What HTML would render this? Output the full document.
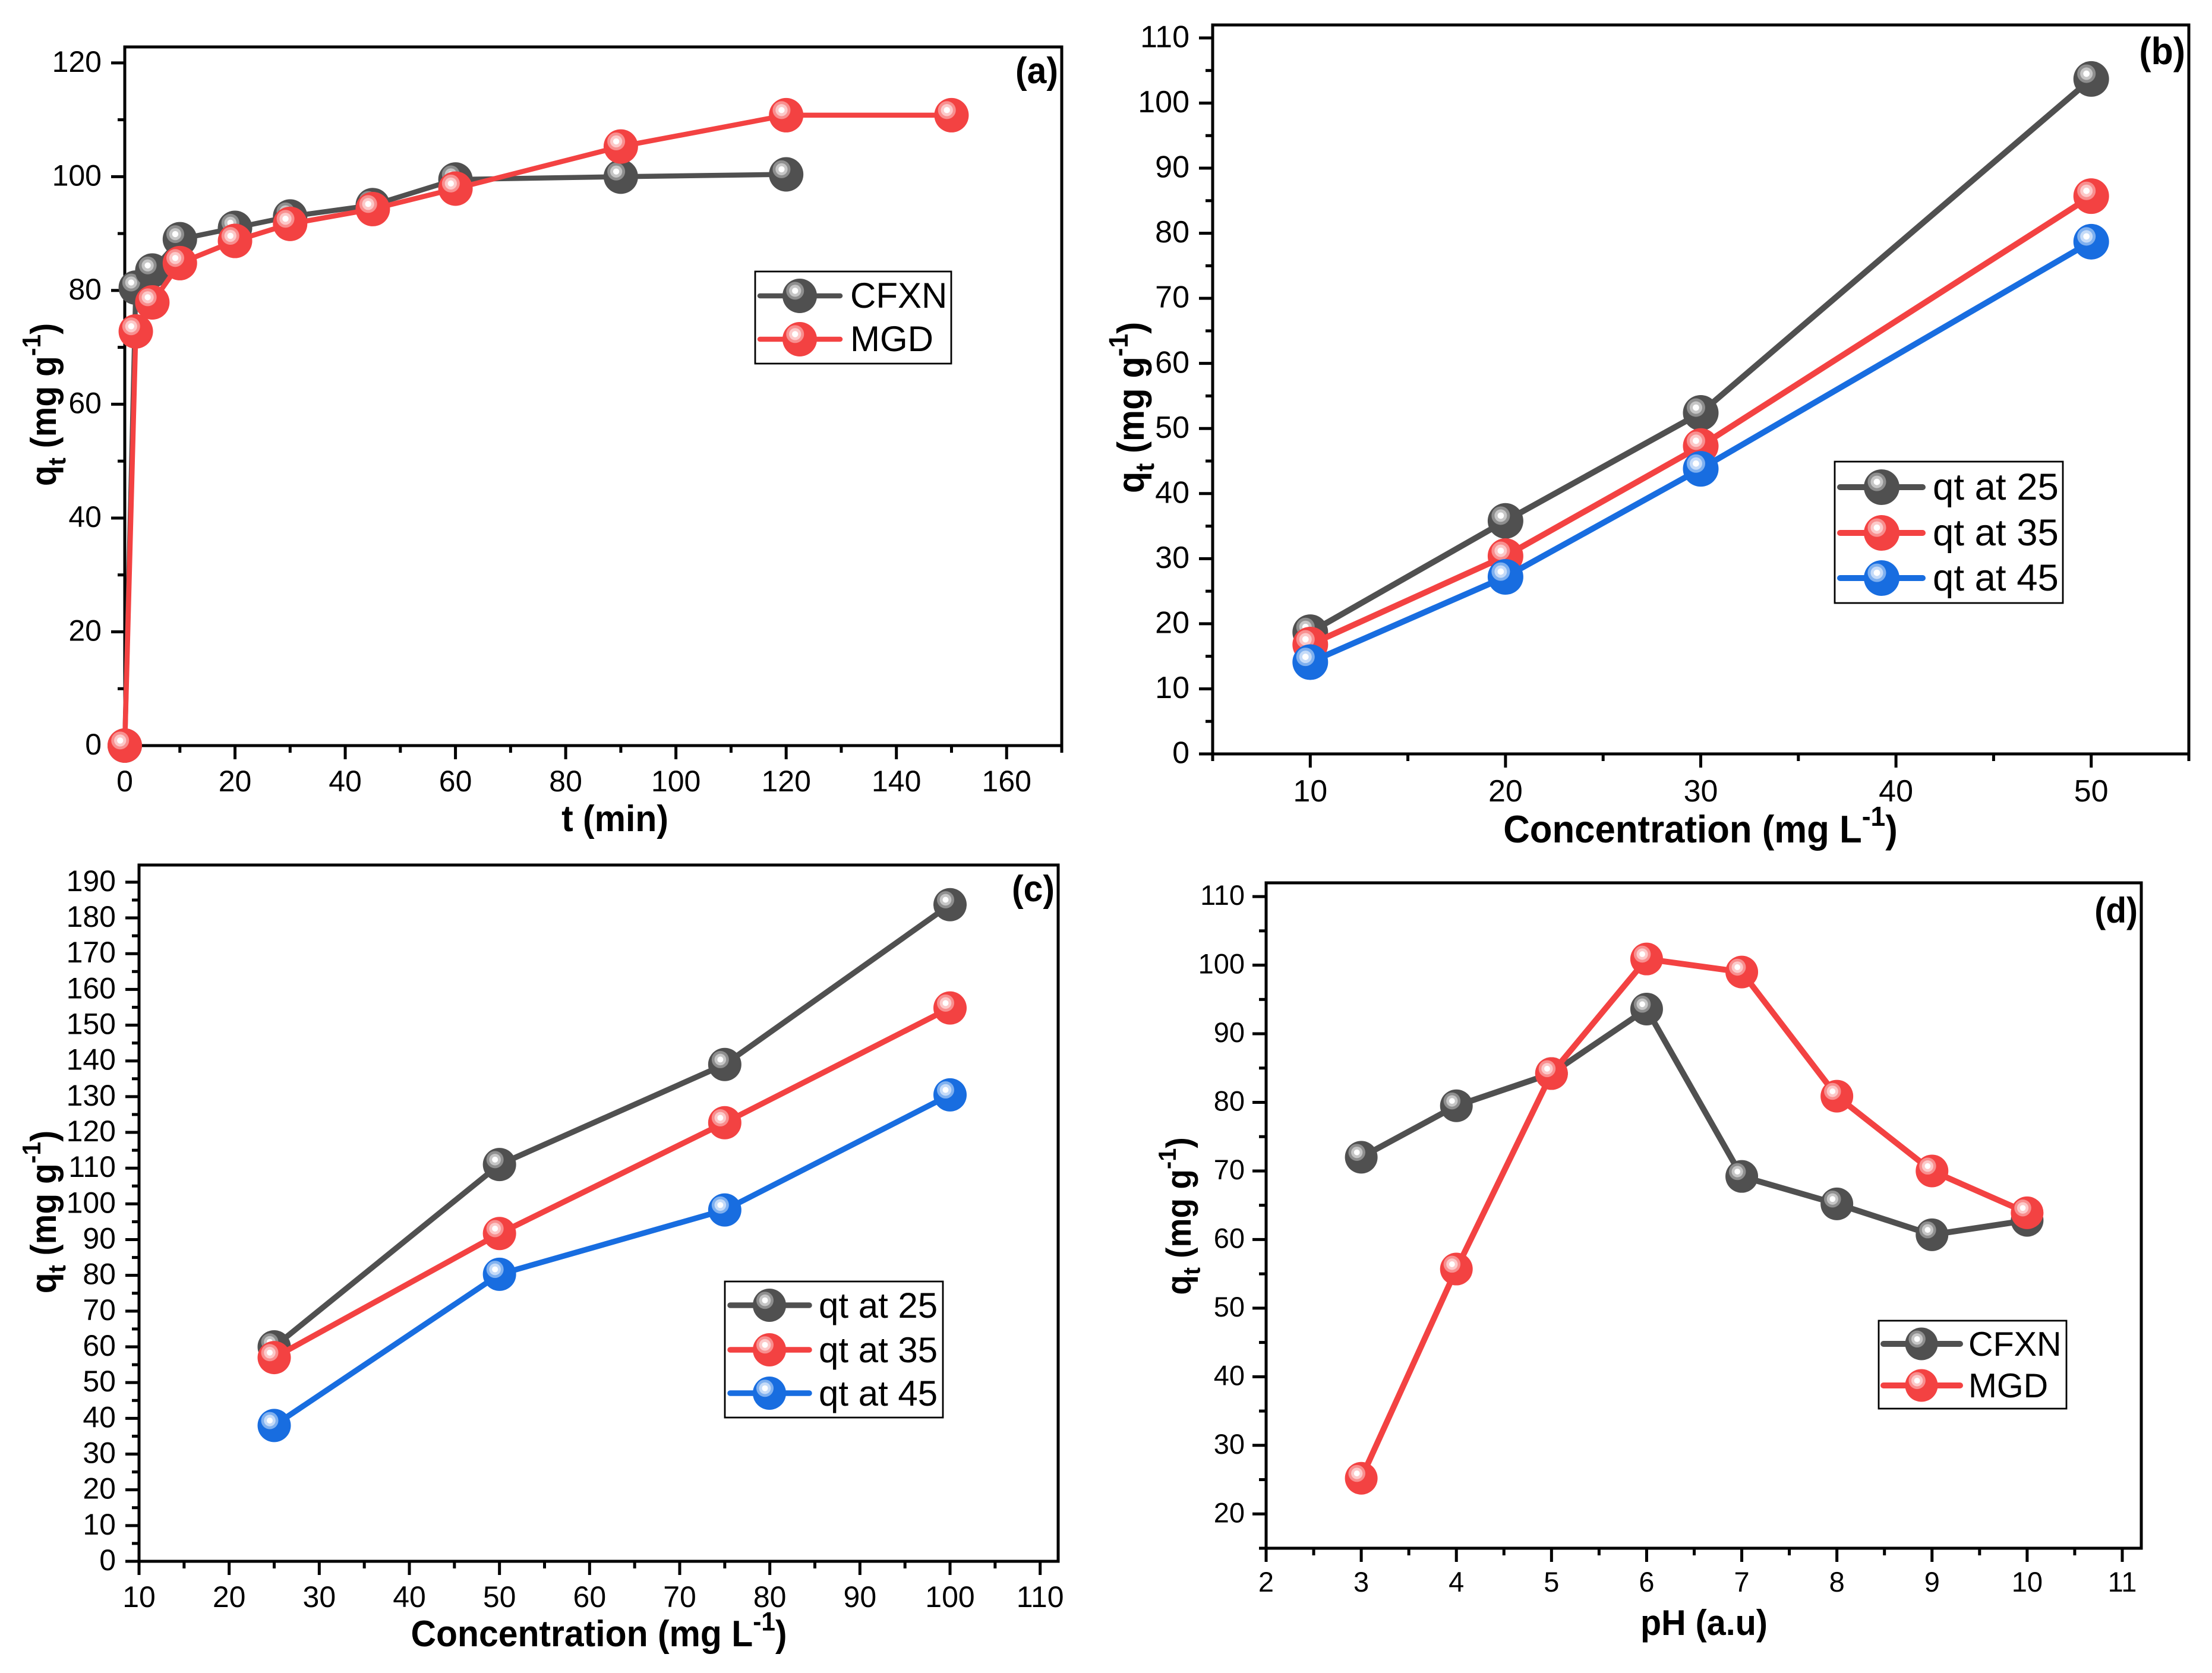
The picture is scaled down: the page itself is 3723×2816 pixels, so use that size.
<!DOCTYPE html>
<html lang="en">
<head>
<meta charset="utf-8">
<title>Adsorption capacity charts</title>
<style>
html,body{margin:0;padding:0;background:#fff;}
svg{display:block;font-family:"Liberation Sans",Arial,sans-serif;}
</style>
</head>
<body>
<svg id="figure" xmlns="http://www.w3.org/2000/svg" width="3723" height="2816" viewBox="0 0 3723 2816">
<rect x="0" y="0" width="3723" height="2816" fill="#ffffff"></rect>
</svg>
<script>
// Panel (a)
const aXTicks = [0, 20, 40, 60, 80, 100, 120, 140, 160];
const aYTicks = [0, 20, 40, 60, 80, 100, 120];
const aCfxnX = [0, 2, 5, 10, 20, 30, 45, 60, 90, 120];
const aCfxnY = [0, 80.5, 83.5, 89, 91, 93, 95, 99.5, 100, 100.4];
const aMgdX = [0, 2, 5, 10, 20, 30, 45, 60, 90, 120, 150];
const aMgdY = [0, 72.8, 77.9, 84.8, 88.7, 91.7, 94.3, 97.9, 105.3, 110.8, 110.8];
// Panel (b)
const bXTicks = [10, 20, 30, 40, 50];
const bYTicks = [0, 10, 20, 30, 40, 50, 60, 70, 80, 90, 100, 110];
const bConc = [10, 20, 30, 50];
const bQt25 = [18.7, 35.8, 52.4, 103.7];
const bQt35 = [16.8, 30.4, 47.3, 85.7];
const bQt45 = [14.1, 27.2, 43.8, 78.7];
// Panel (c)
const cXTicks = [10, 20, 30, 40, 50, 60, 70, 80, 90, 100, 110];
const cYTicks = [0, 10, 20, 30, 40, 50, 60, 70, 80, 90, 100, 110, 120, 130, 140, 150, 160, 170, 180, 190];
const cConc = [25, 50, 75, 100];
const cQt25 = [60, 111, 139, 183.7];
const cQt35 = [57, 91.7, 122.7, 154.8];
const cQt45 = [38, 80.3, 98.3, 130.5];
// Panel (d)
const dXTicks = [2, 3, 4, 5, 6, 7, 8, 9, 10, 11];
const dYTicks = [20, 30, 40, 50, 60, 70, 80, 90, 100, 110];
const dPh = [3, 4, 5, 6, 7, 8, 9, 10];
const dCfxn = [72, 79.5, 84.2, 93.6, 69.2, 65.2, 60.7, 62.8];
const dMgd = [25.2, 55.7, 84.2, 100.9, 99, 80.9, 70, 63.9];

const GREY = {line: '#505050', ring1: '#8e8e8e', ring2: '#c6c6c6', name: 'grey'};
const RED = {line: '#f34242', ring1: '#f88f8f', ring2: '#fcc9c9', name: 'red'};
const BLUE = {line: '#186de0', ring1: '#7fb0ef', ring2: '#c5dbf8', name: 'blue'};
const NS = 'http://www.w3.org/2000/svg';
const root = document.getElementById('figure');

function el(parent, tag, attrs, text) {
  const n = document.createElementNS(NS, tag);
  for (const k in attrs) n.setAttribute(k, attrs[k]);
  if (text !== undefined) n.textContent = text;
  parent.appendChild(n);
  return n;
}

function drawMarker(g, x, y, r, c) {
  const m = el(g, 'g', {});
  
  
  const k = r / 28;
  el(m, 'circle', {cx: x, cy: y, r: r, fill: c.line});
  el(m, 'circle', {cx: x - 7.5 * k, cy: y - 8.3 * k, r: 14.5 * k, fill: c.ring1});
  el(m, 'circle', {cx: x - 7.5 * k, cy: y - 8.3 * k, r: 9.8 * k, fill: c.ring2});
  el(m, 'circle', {cx: x - 7.5 * k, cy: y - 8.3 * k, r: 5 * k, fill: '#ffffff'});
}

function titleWithSub(g, cfg) {
  const t = el(g, 'text', {
    'font-size': cfg.size, 'font-weight': 'bold', 'text-anchor': 'middle',
    transform: 'translate(' + cfg.x + ',' + cfg.y + ') rotate(-90) scale(0.95,1)', fill: '#000'
  });
  
  
  el(t, 'tspan', {}, 'q');
  el(t, 'tspan', {'font-size': cfg.size * 0.7, dy: cfg.size * 0.27}, 't');
  el(t, 'tspan', {dy: -cfg.size * 0.27}, ' (mg g');
  el(t, 'tspan', {'font-size': cfg.size * 0.72, dy: -cfg.size * 0.43}, '-1');
  el(t, 'tspan', {dy: cfg.size * 0.43}, ')');
}

function xTitle(g, cfg) {
  const t = el(g, 'text', {
    'font-size': cfg.size, 'font-weight': 'bold',
    'text-anchor': 'middle', fill: '#000',
    transform: 'translate(' + cfg.x + ',' + cfg.y + ') scale(0.95,1)'
  });
  
  
  el(t, 'tspan', {}, cfg.text);
  if (cfg.sup) {
    el(t, 'tspan', {'font-size': cfg.size * 0.72, dy: -cfg.size * 0.43}, cfg.sup);
    el(t, 'tspan', {dy: cfg.size * 0.43}, ')');
  }
}

function drawPanel(p) {
  const g = el(root, 'g', {});
  
  
  const sx = v => p.left + (v - p.xMin) / (p.xMax - p.xMin) * (p.right - p.left);
  const sy = v => p.bottom - (v - p.yMin) / (p.yMax - p.yMin) * (p.bottom - p.top);

  const frame = el(g, 'rect', {x: p.left, y: p.top, width: p.right - p.left, height: p.bottom - p.top, fill: 'none', stroke: '#000', 'stroke-width': 5});
  
  

  const xg = el(g, 'g', {});
  
  
  const yg = el(g, 'g', {});
  
  

  const xStep = p.xTicks[1] - p.xTicks[0];
  const yStep = p.yTicks[1] - p.yTicks[0];
  for (let v = p.xTicks[0] - xStep / 2; v <= p.xMax + 1e-6; v += xStep) {
    if (v < p.xMin - 1e-6) continue;
    el(xg, 'line', {x1: sx(v), x2: sx(v), y1: p.bottom, y2: p.bottom + 12, stroke: '#000', 'stroke-width': 5});
  }
  for (let v = p.yTicks[0] - yStep / 2; v <= p.yMax + 1e-6; v += yStep) {
    if (v < p.yMin - 1e-6) continue;
    el(yg, 'line', {y1: sy(v), y2: sy(v), x1: p.left, x2: p.left - 12, stroke: '#000', 'stroke-width': 5});
  }
  p.xTicks.forEach(v => {
    el(xg, 'line', {x1: sx(v), x2: sx(v), y1: p.bottom, y2: p.bottom + 23, stroke: '#000', 'stroke-width': 5});
    const t = el(xg, 'text', {x: sx(v), y: p.bottom + p.xLabelDy, 'font-size': p.tickSize, 'text-anchor': 'middle', fill: '#000'}, String(v));
    
    
  });
  p.yTicks.forEach(v => {
    el(yg, 'line', {y1: sy(v), y2: sy(v), x1: p.left, x2: p.left - 23, stroke: '#000', 'stroke-width': 5});
    const t = el(yg, 'text', {x: p.left - p.yLabelDx, y: sy(v) + p.tickSize * 0.3, 'font-size': p.tickSize, 'text-anchor': 'end', fill: '#000'}, String(v));
    
    
  });

  p.series.forEach(s => {
    const sg = el(g, 'g', {});
    
    
    const pts = s.x.map((v, i) => sx(v) + ',' + sy(s.y[i])).join(' ');
    el(sg, 'polyline', {points: pts, fill: 'none', stroke: s.color.line, 'stroke-width': p.lineWidth, 'stroke-linejoin': 'round', 'stroke-linecap': 'round'});
    s.x.forEach((v, i) => drawMarker(sg, sx(v), sy(s.y[i]), p.markerR, s.color));
  });

  const lg = el(g, 'g', {});
  
  
  const L = p.legend;
  el(lg, 'rect', {x: L.x1, y: L.y1, width: L.x2 - L.x1, height: L.y2 - L.y1, fill: '#fff', stroke: '#000', 'stroke-width': 2.8});
  p.series.forEach((s, i) => {
    const e = el(lg, 'g', {});
    
    
    const ry = L.rows[i];
    el(e, 'line', {x1: L.lineX1, x2: L.lineX2, y1: ry, y2: ry, stroke: s.color.line, 'stroke-width': p.lineWidth, 'stroke-linecap': 'round'});
    drawMarker(e, L.markerX, ry, p.markerR, s.color);
    el(e, 'text', {x: L.textX, y: ry + L.textDy, 'font-size': L.size, fill: '#000'}, s.label);
  });

  xTitle(g, p.xTitle);
  titleWithSub(g, p.yTitle);
  const tag = el(g, 'text', {'font-size': p.tag.size, 'font-weight': 'bold', 'text-anchor': 'end', fill: '#000', transform: 'translate(' + p.tag.x + ',' + p.tag.y + ') scale(0.95,1)'}, '(' + p.id + ')');
  
  
}

drawPanel({
  id: 'a', left: 210, right: 1787, top: 79, bottom: 1255,
  xMin: 0, xMax: 170, yMin: 0, yMax: 122.8,
  xTicks: aXTicks, yTicks: aYTicks, tickSize: 50, xLabelDy: 77, yLabelDx: 39,
  markerR: 29, lineWidth: 8.5,
  series: [
    {label: 'CFXN', x: aCfxnX, y: aCfxnY, color: GREY},
    {label: 'MGD', x: aMgdX, y: aMgdY, color: RED}
  ],
  legend: {x1: 1271, x2: 1601, y1: 457, y2: 612, rows: [498, 571], lineX1: 1279, lineX2: 1414, markerX: 1346, textX: 1431, textDy: 20, size: 60},
  xTitle: {x: 1035, y: 1399, size: 62, text: 't (min)'},
  yTitle: {x: 94, y: 681, size: 60},
  tag: {x: 1781, y: 140, size: 62}
});
drawPanel({
  id: 'b', left: 2041, right: 3684, top: 42, bottom: 1269,
  xMin: 5, xMax: 55, yMin: 0, yMax: 112,
  xTicks: bXTicks, yTicks: bYTicks, tickSize: 52, xLabelDy: 80, yLabelDx: 39,
  markerR: 30, lineWidth: 10,
  series: [
    {label: 'qt at 25', x: bConc, y: bQt25, color: GREY},
    {label: 'qt at 35', x: bConc, y: bQt35, color: RED},
    {label: 'qt at 45', x: bConc, y: bQt45, color: BLUE}
  ],
  legend: {x1: 3088, x2: 3472, y1: 777, y2: 1015, rows: [820, 897, 973], lineX1: 3097, lineX2: 3236, markerX: 3167, textX: 3253, textDy: 21, size: 63.5},
  xTitle: {x: 2862, y: 1418, size: 65, text: 'Concentration (mg L', sup: '-1'},
  yTitle: {x: 1925, y: 686, size: 63},
  tag: {x: 3678, y: 108, size: 64}
});
drawPanel({
  id: 'c', left: 234, right: 1781, top: 1456, bottom: 2628,
  xMin: 10, xMax: 112, yMin: 0, yMax: 194.8,
  xTicks: cXTicks, yTicks: cYTicks, tickSize: 50, xLabelDy: 77, yLabelDx: 39,
  markerR: 28, lineWidth: 9.5,
  series: [
    {label: 'qt at 25', x: cConc, y: cQt25, color: GREY},
    {label: 'qt at 35', x: cConc, y: cQt35, color: RED},
    {label: 'qt at 45', x: cConc, y: cQt45, color: BLUE}
  ],
  legend: {x1: 1220, x2: 1587, y1: 2157, y2: 2386, rows: [2197, 2272, 2345], lineX1: 1229, lineX2: 1362, markerX: 1295, textX: 1378, textDy: 21, size: 60},
  xTitle: {x: 1008, y: 2771, size: 62, text: 'Concentration (mg L', sup: '-1'},
  yTitle: {x: 94, y: 2040, size: 60},
  tag: {x: 1775, y: 1517, size: 62}
});
drawPanel({
  id: 'd', left: 2131, right: 3604, top: 1486, bottom: 2606,
  xMin: 2, xMax: 11.2, yMin: 15, yMax: 112,
  xTicks: dXTicks, yTicks: dYTicks, tickSize: 47, xLabelDy: 73, yLabelDx: 36,
  markerR: 27.5, lineWidth: 10,
  series: [
    {label: 'CFXN', x: dPh, y: dCfxn, color: GREY},
    {label: 'MGD', x: dPh, y: dMgd, color: RED}
  ],
  legend: {x1: 3162, x2: 3478, y1: 2223, y2: 2371, rows: [2262, 2332], lineX1: 3170, lineX2: 3299, markerX: 3234, textX: 3313, textDy: 20, size: 57.5},
  xTitle: {x: 2868, y: 2752, size: 60.5, text: 'pH (a.u)'},
  yTitle: {x: 2004, y: 2047, size: 58},
  tag: {x: 3598, y: 1553, size: 60}
});
</script>
</body>
</html>
